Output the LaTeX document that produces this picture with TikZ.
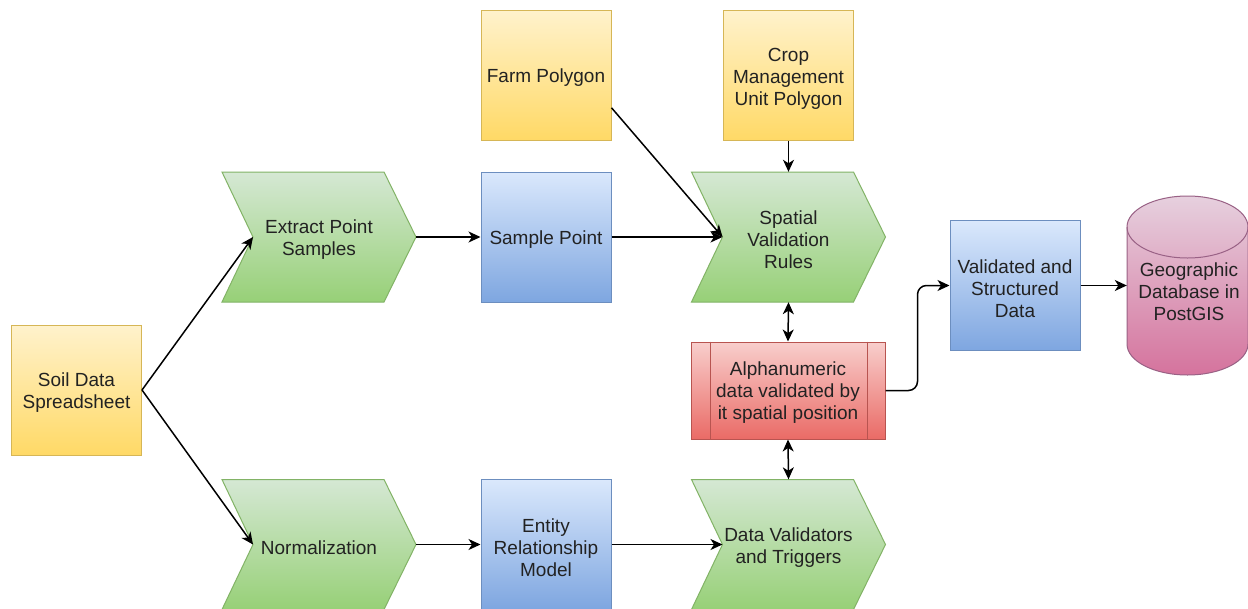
\documentclass[tikz,border=0pt]{standalone}
\usepackage{fontspec}
\setmainfont{Liberation Sans}
\usetikzlibrary{arrows.meta,calc}
\definecolor{yT}{HTML}{FFF2CC}\definecolor{yB}{HTML}{FFD966}\definecolor{yS}{HTML}{D6B656}
\definecolor{gT}{HTML}{D5E8D4}\definecolor{gB}{HTML}{97D077}\definecolor{gS}{HTML}{82B366}
\definecolor{bT}{HTML}{DAE8FC}\definecolor{bB}{HTML}{7EA6E0}\definecolor{bS}{HTML}{6C8EBF}
\definecolor{rT}{HTML}{F8CECC}\definecolor{rB}{HTML}{EA6B66}\definecolor{rS}{HTML}{B85450}
\definecolor{pT}{HTML}{E6D0DE}\definecolor{pB}{HTML}{D5739D}\definecolor{pS}{HTML}{996185}
\definecolor{txtc}{HTML}{222222}
\tikzset{
  lbl/.style={align=center, font=\fontsize{19}{22}\selectfont, text=txtc, inner sep=0pt},
  sq/.style={draw, line width=1pt, minimum width=130pt, minimum height=130pt, inner sep=0pt},
  yellowbox/.style={sq, draw=yS, top color=yT, bottom color=yB},
  bluebox/.style={sq, draw=bS, top color=bT, bottom color=bB},
  chevfill/.style={draw=gS, line width=1pt, top color=gT, bottom color=gB},
  chevbox/.style={minimum width=194pt, minimum height=130pt, inner sep=0pt},
  redbox/.style={draw=rS, line width=1pt, top color=rT, bottom color=rB, minimum width=194pt, minimum height=97pt, inner sep=0pt},
  arr/.style={line width=1.5pt, draw=black, -{Stealth[length=12pt,width=11pt,inset=3.5pt]}},
  darr/.style={line width=1.5pt, draw=black, {Stealth[length=12pt,width=11pt,inset=3.5pt]}-{Stealth[length=12pt,width=11pt,inset=3.5pt]}},
}
% box with text: style, name, position, text
\newcommand{\boxnode}[4]{%
  \node[#1] (#2) at (#3) {};
  \node[lbl] (#2-text) at ([yshift=-3pt]#2.center) {#4};
}
\newcommand{\chevshape}[4]{%
  \path[chevfill] (#2-97,#3-65) -- (#2+65,#3-65) -- (#2+97,#3) -- (#2+65,#3+65) -- (#2-97,#3+65) -- (#2-66,#3) -- cycle;
  \boxnode{chevbox}{#1}{#2,#3}{#4}
  \coordinate (#1-in) at (#2-66,#3);
}
\begin{document}
\begin{tikzpicture}[x=1pt,y=-1pt]
\useasboundingbox (0,0) rectangle (1248,608);
\fill[white] (0,0) rectangle (1248,608);

% yellow sources
\boxnode{yellowbox}{soil}{76.5,390}{Soil Data\\Spreadsheet}
\boxnode{yellowbox}{farm}{546,75}{Farm Polygon}
\boxnode{yellowbox}{crop}{788.5,75.5}{Crop\\Management\\Unit Polygon}

% chevrons
\chevshape{ext}{319}{237}{Extract Point\\Samples}
\chevshape{norm}{319}{544.5}{Normalization}
\chevshape{spat}{788.5}{237}{Spatial\\Validation\\Rules}
\chevshape{dv}{788.5}{544.5}{Data Validators\\and Triggers}

% blue boxes
\boxnode{bluebox}{sample}{546,237}{Sample Point}
\boxnode{bluebox}{erm}{546,544.5}{Entity\\Relationship\\Model}
\boxnode{bluebox}{vsd}{1015,285.5}{Validated and\\Structured\\Data}

% red process
\node[redbox] (alpha) at (788,390.5) {};
\draw[rS, line width=1pt] ([xshift=20pt]alpha.north west) -- ([xshift=20pt]alpha.south west);
\draw[rS, line width=1pt] ([xshift=-18pt]alpha.north east) -- ([xshift=-18pt]alpha.south east);
\node[lbl] (alpha-text) at ([yshift=-2pt]alpha.center) {Alphanumeric\\data validated by\\it spatial position};

% cylinder
\path[draw=pS, line width=1pt, top color=pT, bottom color=pB]
  (1127,227) -- (1127,344)
  arc[start angle=180, end angle=360, x radius=60.5pt, y radius=31pt]
  -- (1248,227)
  arc[start angle=0, end angle=180, x radius=60.5pt, y radius=31pt] -- cycle;
\draw[pS, line width=1pt] (1127,227) arc[start angle=180, end angle=360, x radius=60.5pt, y radius=31pt];
\node[minimum width=121pt, minimum height=179pt, inner sep=0pt] (db) at (1187.5,285.5) {};
\node[lbl] (dbtext) at (1189,292) {Geographic\\Database in\\PostGIS};

% connectors
\draw[arr] (soil.east) -- (ext-in);
\draw[arr] (soil.east) -- (norm-in);
\draw[arr] (ext.east) -- (sample.west);
\draw[arr] (norm.east) -- (erm.west);
\draw[arr] (sample.east) -- (spat-in);
\draw[arr] ($(farm.north east)!0.75!(farm.south east)$) -- (spat-in);
\draw[arr] (crop.south) -- (spat.north);
\draw[arr] (erm.east) -- (dv-in);
\draw[darr] (spat.south) -- (alpha.north);
\draw[darr] (alpha.south) -- (dv.north);
\draw[arr, rounded corners=9pt] (alpha.east) -- ++(32,0) |- (vsd.west);
\draw[arr] (vsd.east) -- (db.west);
\end{tikzpicture}
\end{document}
